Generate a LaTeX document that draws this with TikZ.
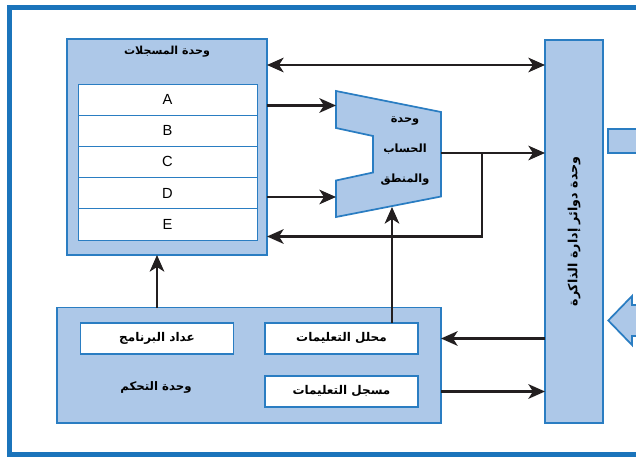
\documentclass[tikz,border=0pt]{standalone}
\usepackage{fontspec}
\setmainfont{Liberation Sans}
\newfontfamily\arabicfont[Script=Arabic]{DejaVu Sans}
\TeXXeTstate=1
\usetikzlibrary{arrows.meta}
\definecolor{unitfill}{HTML}{ADC8E8}
\definecolor{unitline}{HTML}{2A7DC2}
\definecolor{framecol}{HTML}{1B74BB}
\definecolor{wirecol}{HTML}{231F20}
\newcommand{\rtltext}[1]{\beginR #1\endR}

\begin{document}
\begin{tikzpicture}[x=0.75pt, y=-0.75pt,
        unit/.style={draw=unitline, fill=unitfill, line width=1.3pt, inner sep=0pt, outer sep=0pt},
        cell/.style={draw=unitline, fill=white, line width=0.6pt, inner sep=0pt, outer sep=0pt,
            minimum width=134.25pt, minimum height=23.4pt, font=\fontsize{11}{13}\selectfont},
        subunit/.style={draw=unitline, fill=white, line width=1.2pt, inner sep=0pt, outer sep=0pt,
            minimum width=114.5pt, minimum height=23.25pt, font=\arabicfont\bfseries\fontsize{9}{11}\selectfont},
        caption/.style={font=\arabicfont\bfseries\fontsize{8.8}{11}\selectfont, inner sep=1pt},
        wire/.style={draw=wirecol, line width=1.6pt},
        flow/.style={wire, -{Stealth[length=12.5pt, width=11pt, inset=3.5pt]}},
        both/.style={wire, {Stealth[length=12.5pt, width=11pt, inset=3.5pt]}-{Stealth[length=12.5pt, width=11pt, inset=3.5pt]}}]
    \clip (0,0) rectangle (636,457);
    \fill[white] (0,0) rectangle (636,457);
    \draw[framecol, line width=3.75pt] (9.8,7.6) rectangle (700,454.6);

    \node[unit, minimum width=150pt, minimum height=162pt] (regs) at (167,147) {};
    \node[caption, font=\arabicfont\bfseries\fontsize{8.3}{10}\selectfont] (regstitle) at (167,52) {\rtltext{وحدة المسجلات}};
    \foreach \reg [count=\i] in {A,B,C,D,E}
        \node[cell] (r\reg) at (167.5,68.3+31.2*\i) {\reg};

    \draw[unit] (336,91) -- (441,112) -- (441,196.5) -- (336,217) -- (336,180.5)
        -- (373,172.5) -- (373,136) -- (336,128) -- cycle;
    \node[caption, align=center, font=\arabicfont\bfseries\fontsize{8.5}{22.5}\selectfont] (alu) at (405,151)
        {\rtltext{وحدة}\\\rtltext{الحساب}\\\rtltext{والمنطق}};
    \coordinate (aluina) at (336,105.5);
    \coordinate (aluinb) at (336,197);
    \coordinate (aluout) at (441,153);
    \coordinate (aluinc) at (392,207);
    \coordinate (fork) at (482,153);

    \node[unit, minimum width=43.5pt, minimum height=287.25pt] (mem) at (574,231.5) {};
    \node[caption, rotate=90, font=\arabicfont\bfseries\fontsize{9.5}{11}\selectfont] (memtitle) at (mem.center) {\rtltext{وحدة دوائر إدارة الذاكرة}};

    \node[unit, minimum width=288pt, minimum height=86.6pt] (ctrl) at (249,365.25) {};
    \node[subunit] (pc) at (157,338.5) {\rtltext{عداد البرنامج}};
    \node[subunit] (dec) at (341.5,338.5) {\rtltext{محلل التعليمات}};
    \node[subunit] (ir) at (341.5,391.5) {\rtltext{مسجل التعليمات}};
    \node[caption] (ctrltitle) at (156,387) {\rtltext{وحدة التحكم}};

    \draw[unit] (608.3,129) rectangle (700,153.3);
    \draw[unit] (700,305) -- (632,305) -- (632,296) -- (608.3,320.5) -- (632,345) -- (632,336) -- (700,336);

    \draw[both] (regs.east |- 0,65) -- (mem.west |- 0,65);
    \draw[flow] (regs.east |- aluina) -- (aluina);
    \draw[flow] (regs.east |- aluinb) -- (aluinb);
    \draw[flow] (aluout) -- (mem.west |- aluout);
    \draw[flow] (fork) |- (regs.east |- 0,236.5);
    \draw[flow] (aluinc |- dec.north) -- (aluinc);
    \draw[flow] (ctrl.north -| pc) -- (regs.south -| pc);
    \draw[flow] (mem.west |- dec) -- (ctrl.east |- dec);
    \draw[flow] (ctrl.east |- ir) -- (mem.west |- ir);
\end{tikzpicture}
\end{document}
